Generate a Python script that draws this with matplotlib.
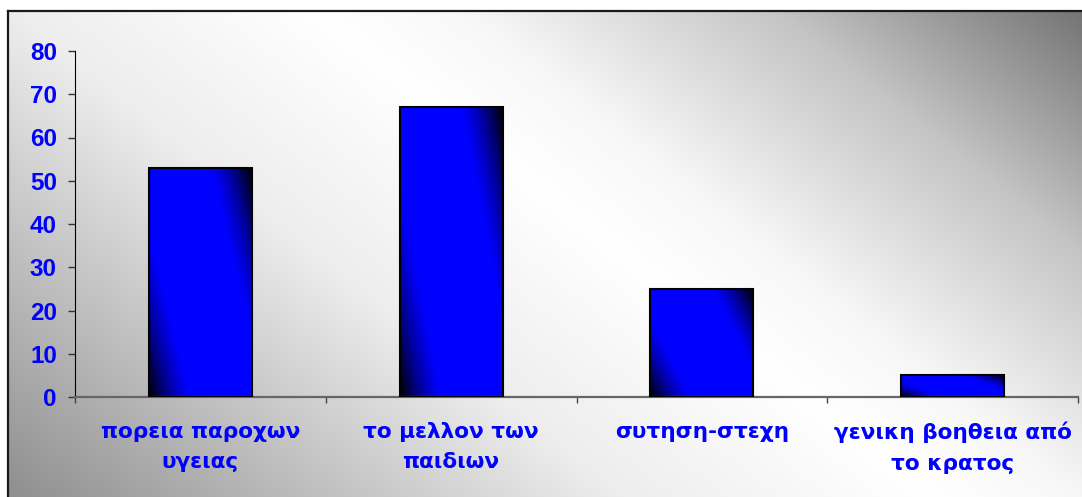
import numpy as np
import matplotlib
matplotlib.use('Agg')
import matplotlib.pyplot as plt

categories = ['πορεια παροχων\nυγειας', 'το μελλον των\nπαιδιων',
              'συτηση-στεχη', 'γενικη βοηθεια από\nτο κρατος']
values = [53, 67, 25, 5]
y_ticks = [0, 10, 20, 30, 40, 50, 60, 70, 80]

W, H = 1082, 497
fig = plt.figure(figsize=(W / 100, H / 100), dpi=100)
fig.patch.set_facecolor('white')

# grey diagonal backdrop inside the chart frame
bg = fig.add_axes([8 / W, -0.05, 1.05, (H - 11) / H + 0.05])
xx, yy = np.meshgrid(np.arange(8, W + 60), np.arange(11, H + 30))
s = xx - 1.25 * yy
shade = np.interp(s, [-650, -6, 300, 450, 760, 1070, 1200],
                  [0.54, 0.93, 1.0, 0.97, 0.77, 0.45, 0.40])
bg.imshow(np.dstack([shade] * 3), aspect='auto', interpolation='bilinear')
bg.set_xticks([])
bg.set_yticks([])
for side, sp in bg.spines.items():
    sp.set_color('#1a1a1a')
    sp.set_linewidth(1.6)
bg.set_zorder(0)

ax = fig.add_axes([75 / W, (H - 397) / H, (1078 - 75) / W, (397 - 51) / H])
ax.set_facecolor('none')
ax.set_zorder(1)

x = np.arange(len(categories))
bars = ax.bar(x, values, width=0.41, color='none', edgecolor='black',
              linewidth=1.5, zorder=3)

# blue-to-black diagonal shading for each bar (dark top-right and bottom-left)
u = np.linspace(0, 1, 200)
w = np.linspace(0, 1, 400)
uu, ww = np.meshgrid(u, w)
d = np.abs((uu - 0.5) - 0.55 * (ww - 0.5))
t = np.clip((d - 0.36) / 0.4, 0, 1)
b = 1 - 0.95 * t ** 1.3
grad = np.dstack([np.zeros_like(b), np.zeros_like(b), b])
for bar in bars:
    x0, y0 = bar.get_x(), bar.get_y()
    im = ax.imshow(grad, extent=[x0, x0 + bar.get_width(), y0, y0 + bar.get_height()],
                   origin='upper', aspect='auto', interpolation='bilinear', zorder=2)
    im.set_clip_path(bar)

ax.set_xlim(-0.5, len(categories) - 0.5)
ax.set_ylim(0, 80)
ax.set_yticks(y_ticks)
ax.set_yticklabels([str(v) for v in y_ticks], color='#0000ff', fontsize=17.5,
                   fontweight='bold', family='Liberation Sans')
ax.tick_params(axis='y', direction='out', length=5, width=1, color='#333333', pad=8)

ax.set_xticks(x)
ax.set_xticklabels([])
ax.tick_params(axis='x', which='major', length=0)
ax.set_xticks(np.arange(-0.5, len(categories)), minor=True)
ax.tick_params(axis='x', which='minor', direction='out', length=4.5, width=1, color='#444444')

for xi, lab in zip(x, categories):
    ax.text(xi, -0.072, lab, transform=ax.get_xaxis_transform(), ha='center', va='top',
            color='#0000ff', fontsize=15.6, fontweight='bold', family='DejaVu Sans',
            linespacing=1.65)

ax.spines['top'].set_visible(False)
ax.spines['right'].set_visible(False)
ax.spines['left'].set_color('black')
ax.spines['left'].set_linewidth(0.8)
ax.spines['bottom'].set_color('#666666')
ax.spines['bottom'].set_linewidth(1.6)

fig.savefig('out.png', dpi=100)
